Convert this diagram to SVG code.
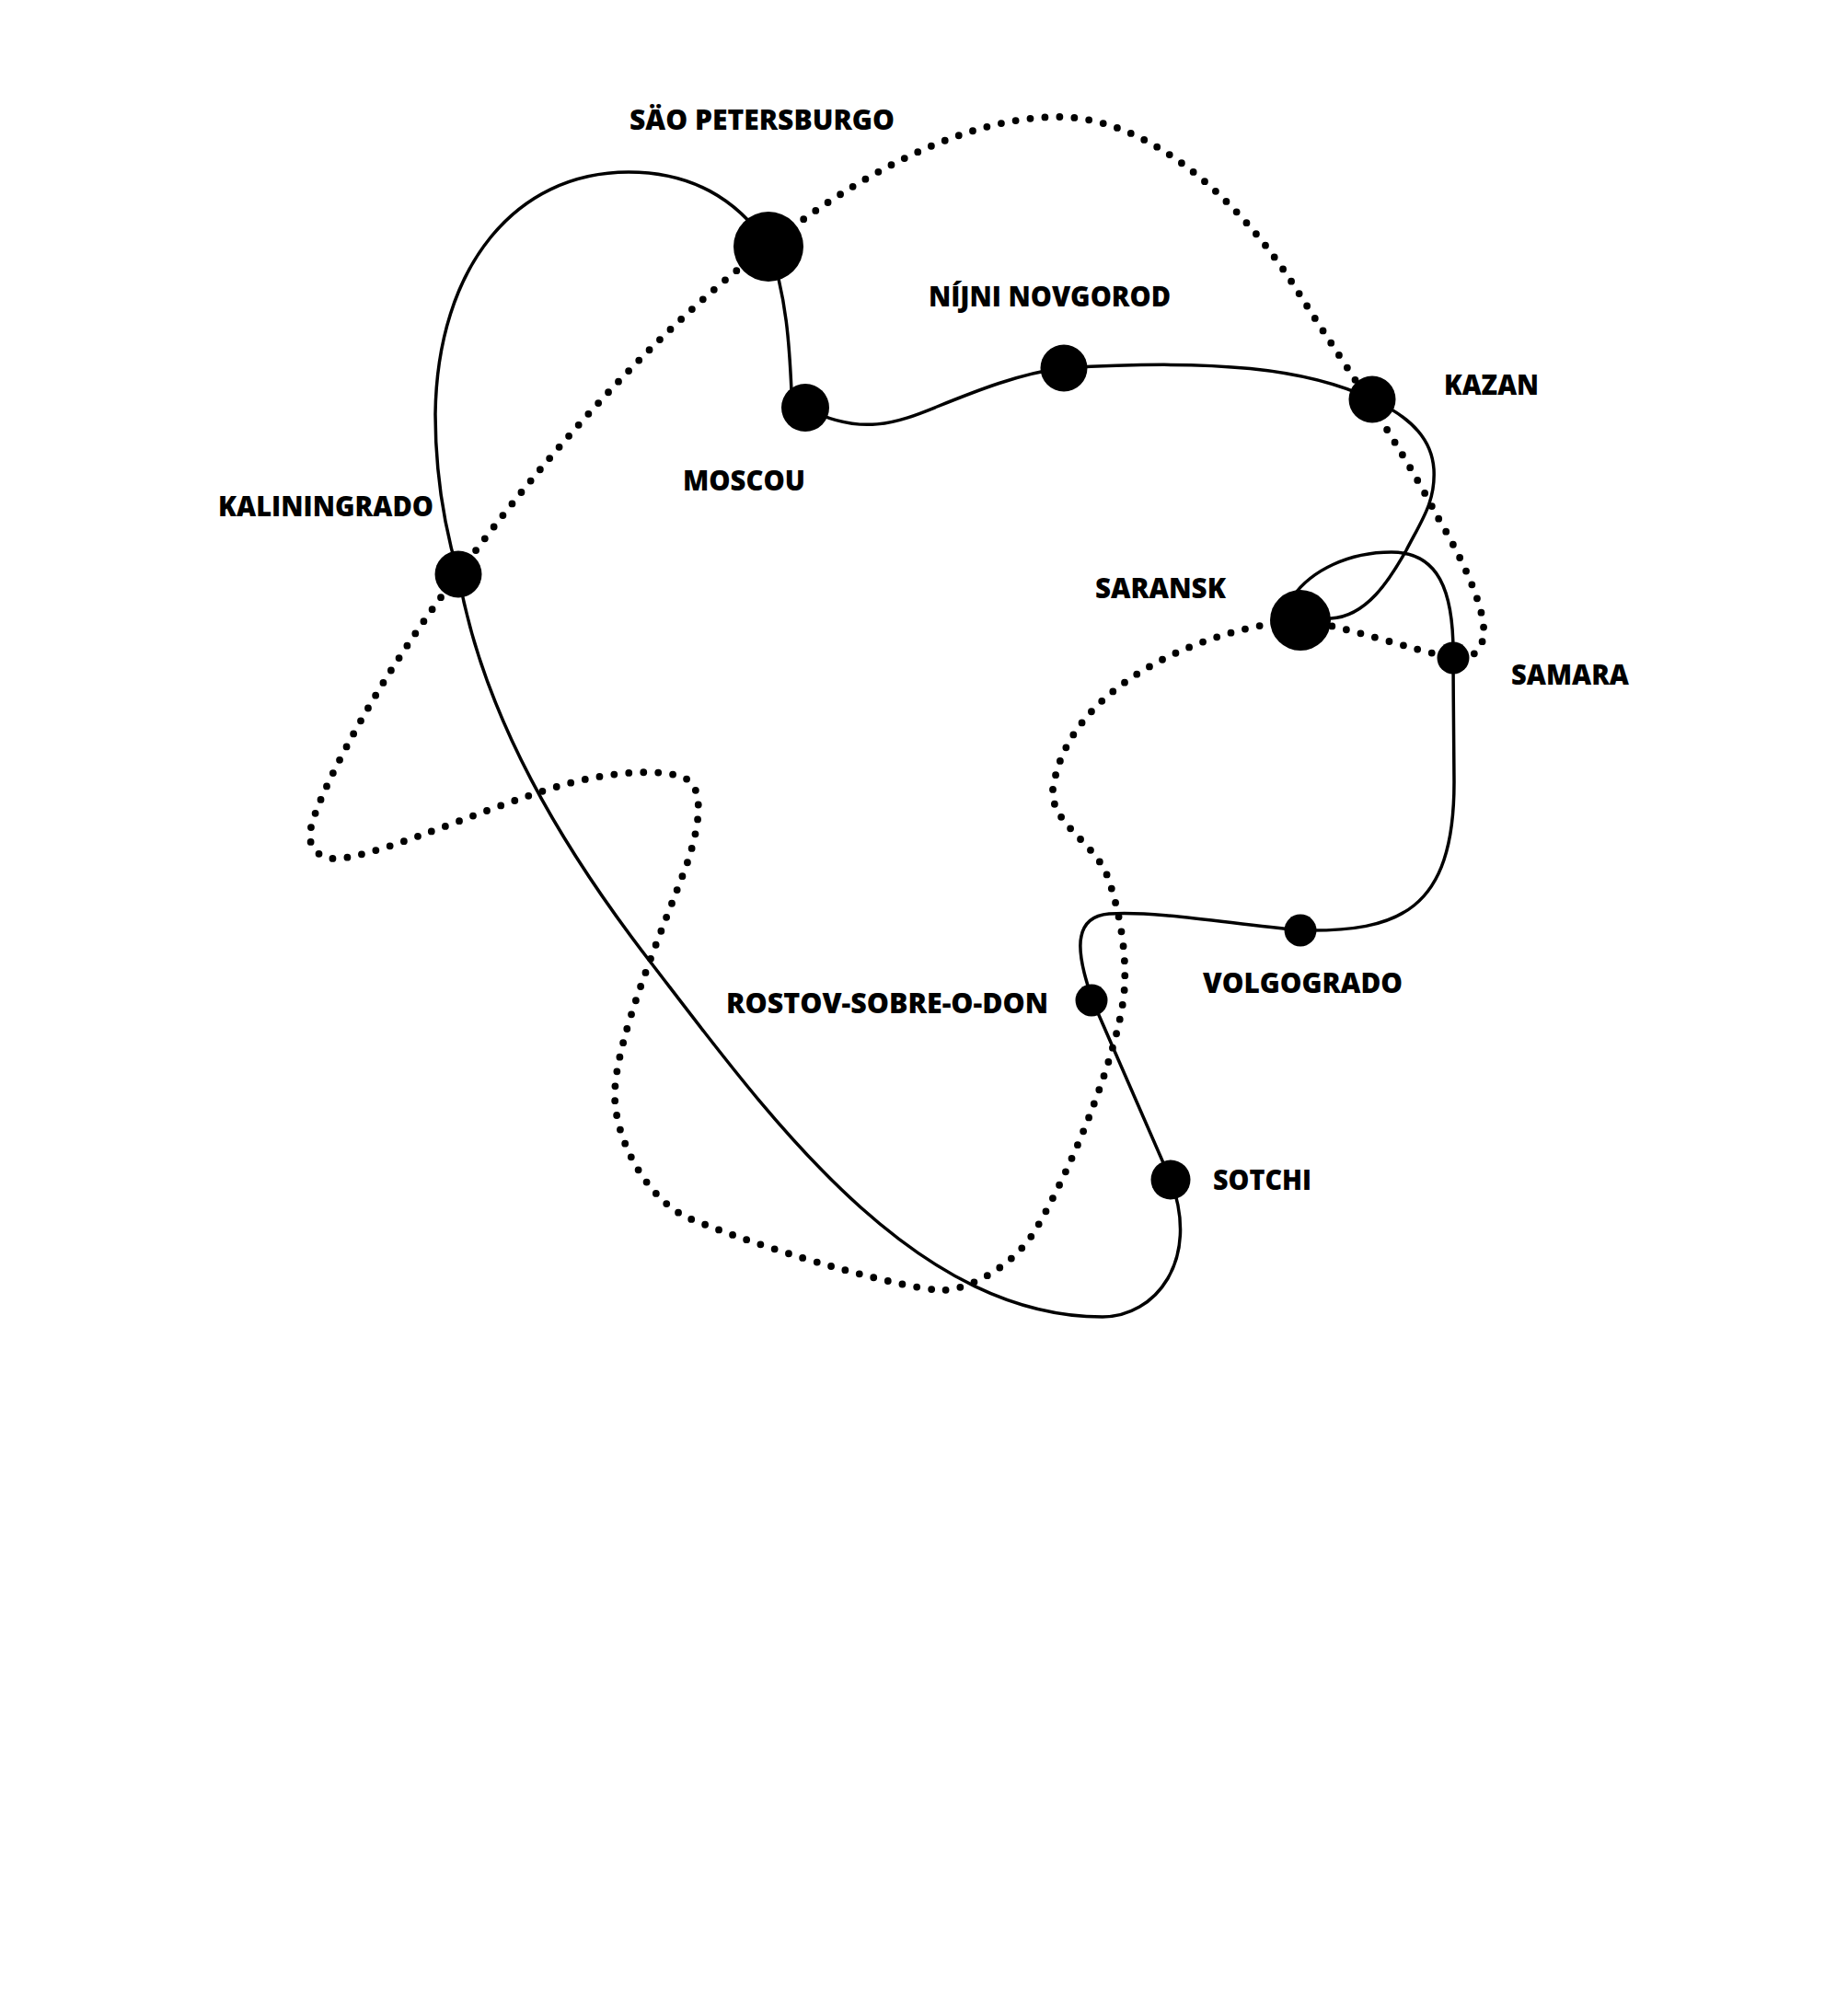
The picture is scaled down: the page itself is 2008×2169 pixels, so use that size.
<svg xmlns="http://www.w3.org/2000/svg" width="2008" height="2169" viewBox="0 0 2008 2169">
<style>
.solid{fill:none;stroke:#000;stroke-width:3.5;stroke-linejoin:round}
.dots{fill:none;stroke:#000;stroke-width:7.8;stroke-linecap:round;stroke-dasharray:0 16}
.node{fill:#000}
.lbl{font-family:"Open Sans","Liberation Sans",sans-serif;font-weight:800;font-size:30px;fill:#000}
</style>
<rect width="2008" height="2169" fill="#fff"/>
<g id="connectors">
<path id="route-solid" class="solid" d="M835,267 C800,215 750,187 683,187 C560,187 475,290 473,450 C473,520 485,580 498,624 C525,779 612,923 708,1047 C834,1211 991,1431 1198,1431 C1255,1431 1305,1370 1272,1282 L1187,1087 C1175,1050 1158,997 1205,993 C1260,990 1330,1003 1413,1011 C1520,1013 1580,990 1580,850 C1580,800 1579,760 1579,715 C1580,640 1562,600 1512,600 C1465,600 1425,620 1405,648 L1413,674 L1446,672 C1485,670 1510,630 1528,598 C1545,565 1560,545 1558,510 C1556,480 1537,455 1491,434 C1420,400 1320,390 1156,400 C1110,405 1060,425 1018,442 C976,459 935,475 875,443 L860,425 C858,380 855,320 835,267 Z"/>
<path id="route-dotted" class="dots" d="M835,267 C900,215 1030,127 1150,127 C1250,127 1350,220 1411,318 C1445,373 1520,480 1561,560 C1585,600 1615,660 1612,690 C1610,710 1595,718 1579,715 C1530,705 1460,680 1413,674 C1320,680 1160,740 1144,858 C1141,895 1190,915 1204,954 C1215,985 1224,1030 1222,1070 C1220,1130 1170,1260 1126,1335 C1101,1378 1050,1402 1024,1402 C990,1402 850,1365 749,1324 C705,1305 668,1240 668,1190 C668,1130 720,1010 746,940 C758,905 768,858 745,846 C730,838 690,836 640,846 C560,862 420,930 366,933 C348,934 335,922 337,905 C339,880 380,800 422,733 C445,697 470,660 498,624 C555,545 690,375 835,267 Z"/>
</g>
<g id="node-sao-petersburgo"><circle class="node" cx="835" cy="268" r="38"/><text class="lbl" x="684" y="141" textLength="288" lengthAdjust="spacingAndGlyphs">SÄO PETERSBURGO</text></g>
<g id="node-moscou"><circle class="node" cx="875" cy="443" r="26"/><text class="lbl" x="742" y="533" textLength="133" lengthAdjust="spacingAndGlyphs">MOSCOU</text></g>
<g id="node-nijni-novgorod"><circle class="node" cx="1156" cy="400" r="25.5"/><text class="lbl" x="1009" y="333" textLength="263" lengthAdjust="spacingAndGlyphs">NÍJNI NOVGOROD</text></g>
<g id="node-kazan"><circle class="node" cx="1491" cy="434" r="25.5"/><text class="lbl" x="1569" y="429" textLength="103" lengthAdjust="spacingAndGlyphs">KAZAN</text></g>
<g id="node-kaliningrado"><circle class="node" cx="498" cy="624" r="25.5"/><text class="lbl" x="237" y="561" textLength="234" lengthAdjust="spacingAndGlyphs">KALININGRADO</text></g>
<g id="node-saransk"><circle class="node" cx="1413" cy="674" r="33"/><text class="lbl" x="1190" y="650" textLength="142" lengthAdjust="spacingAndGlyphs">SARANSK</text></g>
<g id="node-samara"><circle class="node" cx="1579" cy="715" r="17.5"/><text class="lbl" x="1642" y="744" textLength="128" lengthAdjust="spacingAndGlyphs">SAMARA</text></g>
<g id="node-volgogrado"><circle class="node" cx="1413" cy="1011" r="17.5"/><text class="lbl" x="1307" y="1079" textLength="217" lengthAdjust="spacingAndGlyphs">VOLGOGRADO</text></g>
<g id="node-rostov"><circle class="node" cx="1186" cy="1087" r="17.5"/><text class="lbl" x="789" y="1101" textLength="350" lengthAdjust="spacingAndGlyphs">ROSTOV-SOBRE-O-DON</text></g>
<g id="node-sotchi"><circle class="node" cx="1272" cy="1282" r="21.5"/><text class="lbl" x="1318" y="1293" textLength="107" lengthAdjust="spacingAndGlyphs">SOTCHI</text></g>
</svg>
